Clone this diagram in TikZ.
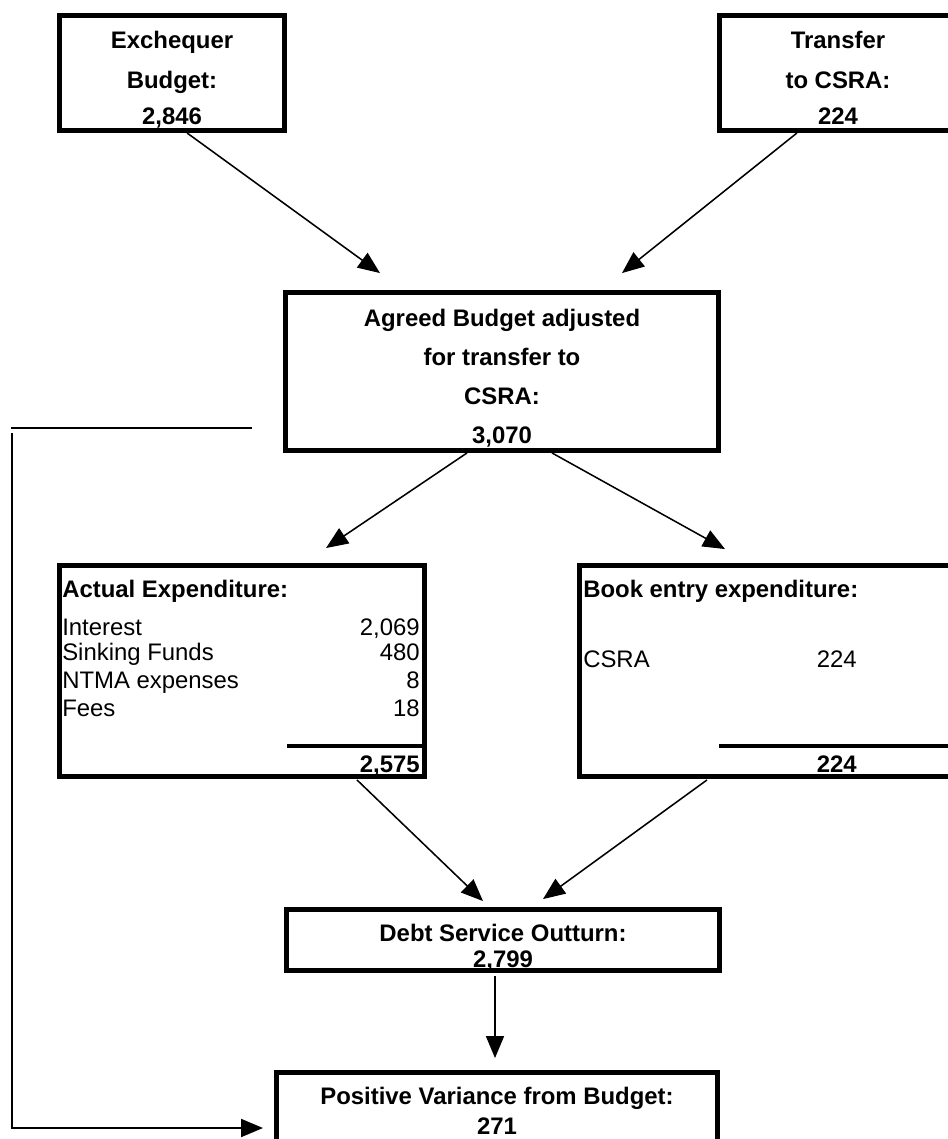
\documentclass[tikz,border=0pt]{standalone}
\usepackage{fontspec}
\setmainfont{Liberation Sans}
\usetikzlibrary{arrows.meta,calc}

\tikzset{
  box/.style={draw, line width=3.3pt, inner sep=0pt},
  flow/.style={line width=1.1pt, -{Triangle[length=0.55cm,width=0.45cm]}},
  hd/.style={anchor=base, font=\fontsize{17}{20}\selectfont\bfseries},
  hdl/.style={anchor=base west, inner sep=0pt, font=\fontsize{17}{20}\selectfont\bfseries},
  hdr/.style={anchor=base east, inner sep=0pt, font=\fontsize{17}{20}\selectfont\bfseries},
  txt/.style={anchor=base west, inner sep=0pt, font=\fontsize{17}{20}\selectfont},
  amt/.style={anchor=base east, inner sep=0pt, font=\fontsize{17}{20}\selectfont},
  rule/.style={line width=3.5pt},
}

\begin{document}
\begin{tikzpicture}[x=0.025cm, y=-0.025cm]
    \useasboundingbox (0,0) rectangle (948,1139);
    \clip (0,0) rectangle (948,1139);

    % boxes
    \node[box, minimum width=5.63cm, minimum height=2.88cm] (exch) at (172,73) {};
    \node[box, minimum width=5.955cm, minimum height=2.88cm] (trans) at (838.5,73) {};
    \node[box, minimum width=10.83cm, minimum height=3.955cm] (agreed) at (502,371.5) {};
    \node[box, minimum width=9.13cm, minimum height=5.28cm] (act) at (242,671) {};
    \node[box, minimum width=9.705cm, minimum height=5.28cm] (book) at (773.5,671) {};
    \node[box, minimum width=10.83cm, minimum height=1.53cm] (debt) at (503,940) {};
    \node[box, minimum width=11.03cm, minimum height=2.78cm] (pos) at (497,1128) {};

    % box texts
    \node[hd] (exch-1) at (172,48.6) {Exchequer};
    \node[hd] (exch-2) at (172,88.6) {Budget:};
    \node[hd] (exch-3) at (172,124.6) {2,846};

    \node[hd] (trans-1) at (838,48.6) {Transfer};
    \node[hd] (trans-2) at (838,88.6) {to CSRA:};
    \node[hd] (trans-3) at (838,124.6) {224};

    \node[hd] (agreed-1) at (502,326.6) {Agreed Budget adjusted};
    \node[hd] (agreed-2) at (502,365.6) {for transfer to};
    \node[hd] (agreed-3) at (502,404.6) {CSRA:};
    \node[hd] (agreed-4) at (502,443.6) {3,070};

    \node[hdl] (act-h) at (62,597) {Actual Expenditure:};
    \foreach \lbl/\val/\y [count=\i] in {Interest/{2,069}/635, Sinking Funds/480/660,
                                         NTMA expenses/8/688, Fees/18/716} {
      \node[txt] (act-l\i) at (62,\y) {\lbl};
      \node[amt] (act-v\i) at (420,\y) {\val};
    }
    \draw[rule] (287,746) -- (425,746);
    \node[hdr] (act-tot) at (420,772) {2,575};

    \node[hdl] (book-h) at (583,597) {Book entry expenditure:};
    \node[txt] (book-l1) at (583,667) {CSRA};
    \node[amt] (book-v1) at (857,667) {224};
    \draw[rule] (719,746) -- (970,746);
    \node[hdr] (book-tot) at (857,772) {224};

    \node[hd] (debt-1) at (503,941) {Debt Service Outturn:};
    \node[hd] (debt-2) at (503,967) {2,799};

    \node[hd] (pos-1) at (497,1104) {Positive Variance from Budget:};
    \node[hd] (pos-2) at (497,1134) {271};

    % connectors
    \draw[flow] ($(exch.south)+(15,0)$) -- ($(agreed.north)+(-122,-17)$);
    \draw[flow] ($(trans.south)+(-41.5,0)$) -- ($(agreed.north)+(120,-17)$);
    \draw[flow] ($(agreed.south)+(-35,0)$) -- ($(act.north)+(84,-15)$);
    \draw[flow] ($(agreed.south)+(50,0)$) -- ($(book.north)+(-48.5,-14)$);
    \draw[flow] ($(act.south)+(115,1)$) -- ($(debt.north)+(-20,-6)$);
    \draw[flow] ($(book.south)+(-66.5,1)$) -- ($(debt.north)+(40,-8)$);
    \draw[flow] ($(debt.south)+(-8,3)$) -- ($(pos.north)+(-2,-12)$);

    % variance feedback
    \coordinate (fbl) at (11,428);
    \coordinate (fbr) at (252,428);
    \coordinate (fbv) at (12,433);
    \draw[line width=1.4pt] (fbl) -- (fbr);
    \draw[flow, line width=1.4pt] (fbv) |- ($(pos.west)+(-11,0)$);

  \end{tikzpicture}
\end{document}
